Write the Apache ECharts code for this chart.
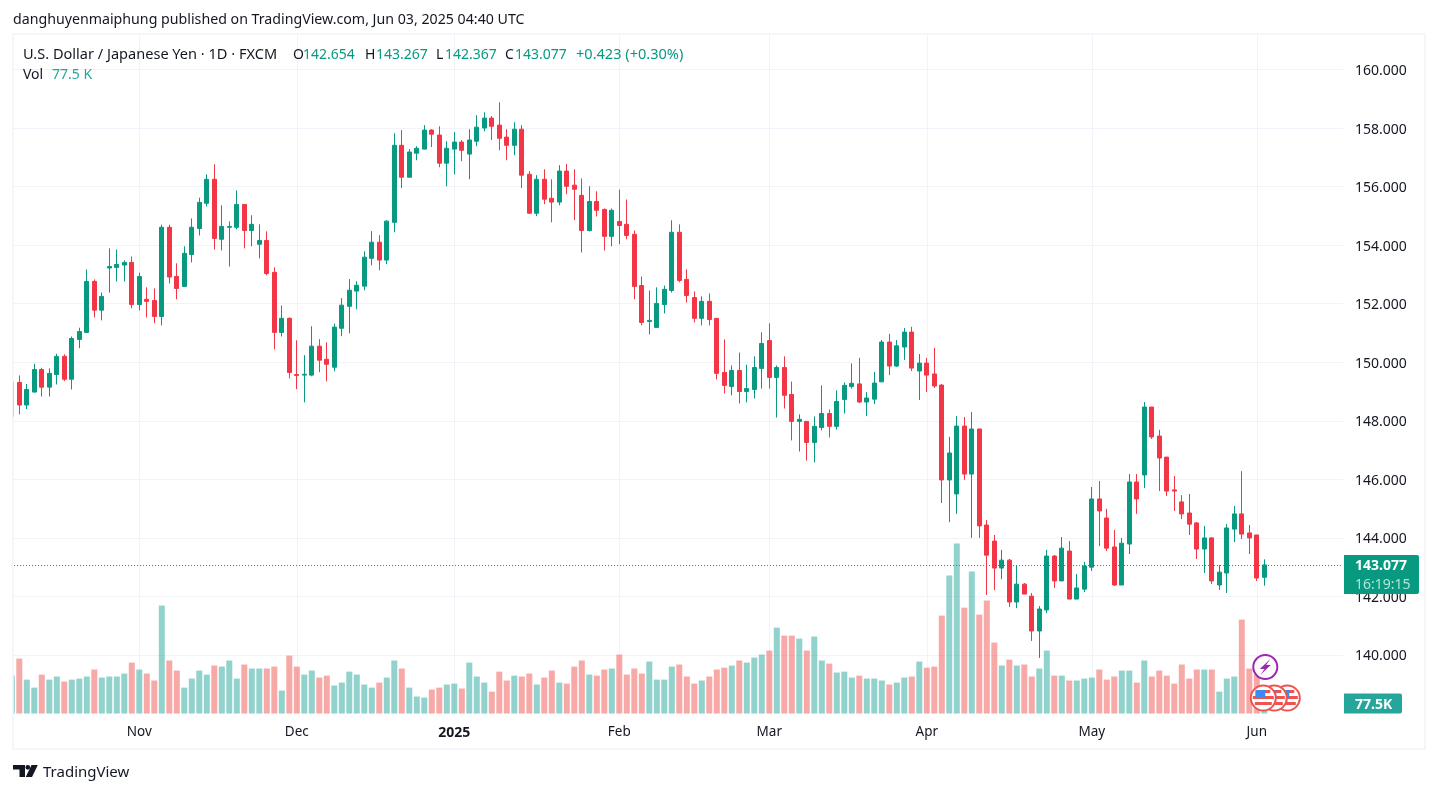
<!DOCTYPE html>
<html>
<head>
<meta charset="utf-8">
<style>html,body{margin:0;padding:0;background:#fff}#c{width:1438px;height:793px}</style>
<script src="https://cdn.jsdelivr.net/npm/echarts@6/dist/echarts.min.js"></script>
</head>
<body>
<div id="c"></div>
<script>
const openPrices=[148.15,149.31,148.54,148.98,149.75,149.15,149.58,150.20,149.42,150.78,151.02,152.76,151.78,153.22,153.24,153.32,153.41,151.97,152.15,152.11,151.56,154.61,152.93,152.59,153.68,154.57,155.43,156.25,154.20,154.61,154.61,155.39,154.50,154.03,154.16,153.07,151.02,151.50,149.58,149.56,149.56,150.55,150.10,149.83,151.16,151.91,152.43,152.60,153.55,154.10,153.49,154.78,157.41,156.32,157.14,157.28,157.93,157.76,156.80,157.28,157.52,157.11,157.55,158.00,158.34,158.10,157.69,157.41,157.96,156.42,155.09,156.25,155.60,155.47,156.53,156.05,155.70,154.50,155.49,155.22,154.30,154.81,154.71,154.37,152.62,151.39,151.19,151.97,152.45,154.44,152.83,152.21,151.50,152.08,151.50,149.65,149.17,149.72,149.00,149.07,149.79,150.74,149.48,149.82,148.90,147.98,147.98,147.26,147.77,148.25,147.81,148.73,149.17,149.26,148.64,148.74,149.33,150.69,149.87,150.52,151.03,149.70,149.97,149.60,149.22,145.98,145.50,147.82,146.18,147.72,144.44,143.89,142.97,143.24,141.81,142.42,142.01,140.82,141.54,143.38,142.53,143.55,141.91,142.25,143.00,145.33,144.68,143.69,142.39,143.79,145.91,146.15,148.47,147.48,146.76,145.64,145.23,144.85,144.51,143.62,144.00,142.39,142.80,144.30,144.82,144.17,144.10,142.654];
const closePrices=[149.32,148.54,149.07,149.75,149.15,149.62,150.20,149.42,150.81,151.05,152.76,151.78,152.25,153.27,153.34,153.41,151.97,152.93,152.08,151.56,154.61,152.91,152.52,153.72,154.61,155.46,156.25,154.23,154.64,154.64,155.39,154.50,154.71,154.16,153.03,151.02,151.50,149.65,149.55,149.59,150.55,150.07,149.93,151.20,151.95,152.46,152.63,153.59,154.10,153.49,154.82,157.41,156.32,157.18,157.31,157.93,157.79,156.80,157.31,157.52,157.24,157.59,158.03,158.34,158.06,157.65,157.41,157.96,156.39,155.09,156.25,155.57,155.47,156.53,156.01,155.91,154.50,155.49,155.19,154.30,155.19,154.67,154.33,152.59,151.36,151.43,152.01,152.49,154.44,152.79,152.28,151.50,152.08,151.46,149.62,149.21,149.72,149.00,149.10,149.82,150.64,149.48,149.82,148.87,147.98,148.05,147.26,147.81,148.25,147.81,148.66,149.21,149.28,148.64,148.78,149.29,150.69,149.87,150.56,151.03,149.80,149.97,149.56,149.19,145.98,146.90,147.82,146.18,147.72,144.41,143.41,142.97,143.24,141.81,142.42,142.08,140.82,141.57,143.38,142.53,143.65,141.91,142.29,143.04,145.33,144.92,143.65,142.39,143.82,145.91,145.33,148.47,147.45,146.73,145.60,145.60,144.82,144.47,143.62,144.00,142.53,142.83,144.34,144.82,144.13,144.00,142.63,143.077];
const highPrices=[149.35,149.55,149.26,149.95,149.81,149.79,150.29,150.27,150.88,151.18,153.17,152.83,152.38,153.89,153.85,153.48,153.61,153.06,152.56,152.52,154.70,154.70,153.38,153.96,154.91,155.62,156.42,156.76,155.36,154.81,155.87,155.39,155.02,154.71,154.47,153.24,151.94,151.53,150.75,150.24,151.23,150.79,150.68,151.32,152.19,152.84,152.77,153.79,154.48,154.34,154.85,157.82,157.93,157.28,157.38,158.10,157.96,158.06,157.55,157.86,157.59,157.96,158.44,158.54,158.41,158.88,157.96,158.20,158.10,156.53,156.39,156.59,156.25,156.73,156.77,156.59,156.28,156.01,155.84,155.25,155.25,155.90,155.56,154.50,152.93,152.45,152.56,152.62,154.85,154.71,153.17,152.42,152.25,152.35,151.50,150.78,149.89,150.33,149.92,150.20,151.02,151.33,149.89,150.20,149.34,148.22,147.98,148.15,149.21,148.39,149.04,149.31,149.96,150.15,148.98,149.67,150.76,150.97,150.76,151.17,151.21,150.28,150.15,150.49,149.26,147.45,148.16,148.13,148.30,147.72,144.61,144.10,143.59,143.28,143.07,142.46,142.12,141.67,143.59,143.41,144.03,143.89,142.77,143.18,145.74,145.94,144.99,144.27,144.00,146.18,146.18,148.64,148.47,147.69,146.76,146.11,145.46,145.50,144.54,144.41,144.03,143.07,144.47,145.09,146.28,144.44,144.10,143.267];
const lowPrices=[148.10,148.22,148.40,148.98,148.83,148.83,149.24,149.36,149.07,150.48,151.00,151.53,151.43,152.38,152.76,152.76,151.84,151.77,151.53,151.33,151.26,152.69,152.15,152.59,153.41,154.33,155.32,153.85,153.82,153.27,154.54,153.89,153.96,153.55,152.97,150.44,150.88,149.45,149.08,148.63,149.52,149.66,149.35,149.69,150.89,150.99,151.81,152.46,153.31,153.14,153.35,154.44,155.95,156.32,156.90,157.28,157.35,156.66,156.01,156.42,156.87,156.25,157.38,157.89,157.59,157.24,156.90,157.07,155.95,155.09,154.99,155.40,154.78,155.36,155.74,154.85,153.75,154.47,154.98,153.82,153.96,154.03,154.20,152.15,151.26,150.95,151.19,151.67,152.38,152.73,152.04,151.36,151.26,151.26,149.41,148.93,148.87,148.59,148.63,148.76,149.10,149.10,148.11,148.42,147.33,146.95,146.64,146.58,147.67,147.43,147.70,148.25,149.10,148.61,148.16,148.57,149.33,149.56,149.84,150.08,149.70,148.71,148.98,149.12,145.19,144.54,144.82,145.98,144.00,144.00,142.05,142.22,142.59,141.64,141.60,142.08,140.48,139.90,141.43,142.29,142.53,141.91,141.91,142.15,142.87,143.72,143.55,142.36,142.39,143.45,144.82,145.70,147.38,145.60,145.43,144.92,144.64,144.10,143.28,142.80,142.42,142.22,142.12,143.86,143.96,143.45,142.53,142.367];
const volumesK=[294,426,263,201,302,263,287,248,263,271,287,341,279,287,287,310,395,341,310,256,837,411,333,201,271,333,302,372,364,411,271,380,349,349,349,364,178,449,364,302,333,279,294,217,240,325,302,225,201,240,279,411,349,201,132,124,186,201,225,232,194,395,287,240,170,325,256,294,287,310,225,279,333,240,232,364,411,302,294,341,349,457,302,349,310,403,263,263,364,380,287,232,256,287,341,356,372,411,395,434,457,488,666,604,604,581,488,597,411,387,318,325,279,294,271,271,256,225,240,279,287,403,356,364,759,1069,1317,821,1100,767,876,550,372,418,372,380,287,349,488,294,294,256,256,271,279,341,263,287,333,333,240,411,287,333,294,232,380,271,341,341,341,170,271,287,728,349,302,77.5];
const monthTickIndex=[17,38,59,81,101,122,144,166];
const monthTickLabels=['Nov','Dec','2025','Feb','Mar','Apr','May','Jun'];
const priceTicks=[140,142,144,146,148,150,152,154,156,158,160];
const emptySlotsRight=10;
const lastClose=143.077, lastVolumeK=77.5;

const GREEN='#089981',RED='#f23645',TEXT='#131722',GRID='#f0f3fa';
const FONT='"Noto Sans", sans-serif';
const categories=Array.from({length:openPrices.length+emptySlotsRight},(_,i)=>{
  const k=monthTickIndex.indexOf(i);
  return k>=0?monthTickLabels[k]:'d'+i;
});
const isMonthTick=i=>monthTickIndex.includes(i);
const chart=echarts.init(document.getElementById('c'),null,{renderer:'canvas'});
const candleData=openPrices.map((o,i)=>[o,closePrices[i],lowPrices[i],highPrices[i]]);
const GRID_TOP=35,GRID_BOTTOM=793-713.55,PX_PER_K=1/7.75;
chart.setOption({
  animation:false,
  backgroundColor:'#fff',
  grid:{left:8.05,right:1438-1343.05,top:GRID_TOP,bottom:GRID_BOTTOM,show:false,containLabel:false},
  xAxis:{type:'category',data:categories,boundaryGap:true,
    axisLine:{show:false},axisTick:{show:false},
    axisLabel:{interval:(i)=>isMonthTick(i),margin:12,color:TEXT,fontSize:13.5,fontFamily:FONT,
      formatter:v=>v==='2025'?'{b|2025}':v,
      rich:{b:{fontWeight:'bold',fontSize:14,color:TEXT,fontFamily:FONT}}},
    splitLine:{show:true,interval:(i)=>isMonthTick(i),alignWithLabel:true,lineStyle:{color:GRID,width:1}}},
  yAxis:[
    {type:'value',position:'right',min:138,max:161.178,interval:2,scale:true,
     axisLine:{show:false},axisTick:{show:false},
     axisLabel:{margin:12,color:TEXT,fontSize:14,fontFamily:FONT,
       formatter:v=>priceTicks.includes(v)?'{a|'+v.toFixed(3)+'}':'',
       rich:{a:{fontSize:14,color:TEXT,fontFamily:FONT,padding:[3,0,0,0]}}},
     splitLine:{show:true,showMinLine:false,showMaxLine:false,lineStyle:{color:GRID,width:1}}},
    {type:'value',show:false,min:0,max:(793-GRID_TOP-GRID_BOTTOM)/PX_PER_K,splitLine:{show:false}}
  ],
  series:[
    {type:'bar',name:'Vol',xAxisIndex:0,yAxisIndex:1,barWidth:6,z:1,
     data:volumesK.map((v,i)=>({value:v,itemStyle:{color:closePrices[i]>=openPrices[i]?'rgba(38,166,154,0.5)':'rgba(239,83,80,0.5)'}}))},
    {type:'candlestick',name:'USDJPY',xAxisIndex:0,yAxisIndex:0,barWidth:4.5,z:3,data:candleData,
     itemStyle:{color:GREEN,color0:RED,borderColor:GREEN,borderColor0:RED,borderWidth:1},
     markLine:{silent:true,symbol:'none',label:{show:false},
       lineStyle:{color:GREEN,type:[1,2],width:1},data:[{yAxis:lastClose}]}}
  ]
});

function txt(x,y,t,o){return Object.assign({type:'text',x,y,z:120,silent:true,
  style:Object.assign({text:t,fill:TEXT,font:'14px '+FONT,textVerticalAlign:'middle'},o||{})});}
const HDR=[[23,'U.S. Dollar / Japanese Yen · 1D · FXCM',TEXT],[293,'O',TEXT],[303,'142.654',GREEN],[365,'H',TEXT],[376,'143.267',GREEN],[436,'L',TEXT],[445,'142.367',GREEN],[505,'C',TEXT],[515,'143.077',GREEN],[576,'+0.423 (+0.30%)',GREEN]];
const yClose=chart.convertToPixel({yAxisIndex:0},lastClose);
const yVol=chart.convertToPixel({yAxisIndex:1},lastVolumeK);
const xLast=chart.convertToPixel({xAxisIndex:0},openPrices.length-1);

function flag(cx,cy,z){
  const R=12.5;
  return {type:'group',x:cx,y:cy,z,silent:true,children:[
    {type:'circle',shape:{cx:0,cy:0,r:R},z,style:{fill:'#fff',stroke:'#ef5350',lineWidth:2}},
    {type:'rect',shape:{x:-10.5,y:-2,width:21,height:3},z:z+1,style:{fill:'#ef5350'}},
    {type:'rect',shape:{x:-8.5,y:4,width:17,height:3},z:z+1,style:{fill:'#ef5350'}},
    {type:'rect',shape:{x:-1,y:-8,width:8,height:3},z:z+1,style:{fill:'#ef5350'}},
    {type:'rect',shape:{x:-8,y:-8,width:10,height:8},z:z+2,style:{fill:'#3d8bf2'}}
  ]};
}
chart.setOption({graphic:{elements:[
  {type:'rect',z:90,silent:true,shape:{x:0,y:20,width:13,height:720},style:{fill:'#fff'}},
  {type:'rect',z:91,silent:true,shape:{x:13,y:34,width:1412,height:715},style:{fill:'none',stroke:GRID,lineWidth:1.5}},
  txt(13,20,'danghuyenmaiphung published on TradingView.com, Jun 03, 2025 04:40 UTC',{font:'14.2px '+FONT}),
  ...HDR.map((h,i)=>txt(h[0],55,h[1],{fill:h[2],font:(i===0||i===9?'14.55px ':'14px ')+FONT})),
  txt(23,75,'Vol'),txt(52,75,'77.5 K',{fill:'#26a69a'}),
  {type:'rect',z:110,silent:true,shape:{x:1344,y:yClose-10,width:75,height:39,r:[0,2,2,0]},style:{fill:GREEN}},
  txt(1355,yClose+1,'143.077',{fill:'#fff',font:'bold 14px '+FONT}),
  txt(1355,yClose+20,'16:19:15',{fill:'#b5e3da',font:'14px '+FONT}),
  {type:'rect',z:110,silent:true,shape:{x:1344,y:yVol-10,width:58,height:20,r:[0,2,2,0]},style:{fill:'#26a69a'}},
  txt(1355,yVol+1,'77.5K',{fill:'#fff',font:'bold 14px '+FONT}),
  flag(xLast+23,698,100),flag(xLast+10,698,104),flag(xLast-1,698,108),
  {type:'circle',z:112,silent:true,shape:{cx:xLast+1,cy:667,r:12},style:{fill:'#fff',stroke:'#9c27b0',lineWidth:2}},
  {type:'polygon',z:113,silent:true,shape:{points:[[xLast+6,659],[xLast-4.5,669],[xLast+0.2,669],[xLast-4,675],[xLast+6.5,665],[xLast+1.8,665]]},style:{fill:'#9c27b0'}},
  {type:'polygon',z:120,silent:true,shape:{points:[[13,765],[25,765],[25,777],[19.5,777],[19.5,769.5],[13,769.5]]},style:{fill:TEXT}},
  {type:'circle',z:120,silent:true,shape:{cx:27.8,cy:767.3,r:2.4},style:{fill:TEXT}},
  {type:'polygon',z:120,silent:true,shape:{points:[[31.5,765],[37.8,765],[32,777],[25.7,777]]},style:{fill:TEXT}},
  txt(43,772.5,'TradingView',{font:'15px '+FONT})
]}});
</script>
</body>
</html>
